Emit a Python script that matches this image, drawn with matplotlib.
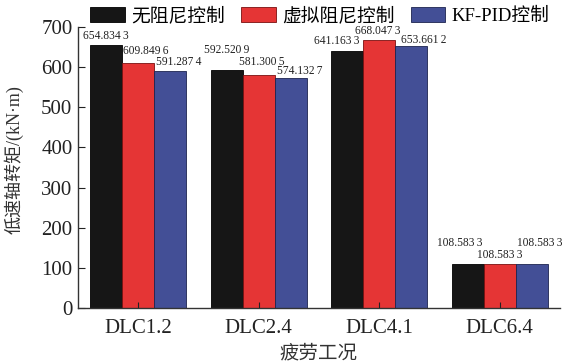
import numpy as np
import matplotlib
matplotlib.use("Agg")
import matplotlib.pyplot as plt

plt.rcParams['font.family'] = ['Liberation Serif', 'Noto Sans CJK SC', 'DejaVu Sans']
plt.rcParams['axes.unicode_minus'] = False

# fatigue load cases and low-speed shaft torque (kN·m)
cases = ['DLC1.2', 'DLC2.4', 'DLC4.1', 'DLC6.4']
series_names = ['无阻尼控制', '虚拟阻尼控制', 'KF-PID控制']
no_damping = [654.8343, 592.5209, 641.1633, 108.5833]
virtual_damping = [609.8496, 581.3005, 668.0473, 108.5833]
kf_pid = [591.2874, 574.1327, 653.6612, 108.5833]

colors = ['#161616', '#e53535', '#434f96']
edges = ['#000000', '#7a1010', '#1d2450']

# label nudges (pixels) so the value texts don't collide
label_dx = [[0, 0, -10, -8], [8, 3, -1, 0], [9, 9, 12, 8]]
label_dy = [[3, 14, 4, 15], [6, 7, 3, 3], [3, 1, 0, 15]]


def fmt(v):
    s = f'{v:.4f}'
    return s[:-1] + '\u2009' + s[-1]


fig = plt.figure(figsize=(5.69, 3.63), dpi=100)
ax = fig.add_axes([0.137, 0.1515, 0.847, 0.774])

x = np.arange(len(cases))
w = 0.266
all_series = [no_damping, virtual_damping, kf_pid]
for i, vals in enumerate(all_series):
    pos = x + (i - 1) * w
    bars = ax.bar(pos, vals, w, color=colors[i], edgecolor=edges[i],
                  linewidth=0.6, label=series_names[i])
    for j, (b, v) in enumerate(zip(bars, vals)):
        ax.annotate(fmt(v), (b.get_x() + b.get_width() / 2, v),
                    xytext=(label_dx[i][j], label_dy[i][j]),
                    textcoords='offset pixels', ha='center', va='bottom',
                    fontsize=8.3, color='#222222')

ax.set_xlim(-0.5, 3.5)
ax.set_ylim(0, 700)
ax.set_yticks(np.arange(0, 701, 100))
ax.set_xticks(x)
ax.set_xticklabels(cases)
ax.tick_params(axis='both', direction='in', labelsize=15, colors='#222222')
ax.tick_params(axis='x', length=4, pad=8)
ax.tick_params(axis='y', length=5, pad=4)
ax.spines['top'].set_visible(False)
ax.spines['right'].set_visible(False)
for s in ('left', 'bottom'):
    ax.spines[s].set_color('#333333')
    ax.spines[s].set_linewidth(1.0)

ax.set_xlabel('疲劳工况', fontsize=14, color='#333333', labelpad=5)
ax.set_ylabel('低速轴转矩/(kN·m)', fontsize=13, color='#333333')
ax.yaxis.set_label_coords(-0.112, 0.53)

ax.legend(loc='lower left', bbox_to_anchor=(0.025, 1.006), ncol=3,
          frameon=False, fontsize=13.5, handlelength=1.85, handleheight=0.85,
          handletextpad=0.35, columnspacing=0.85, borderaxespad=0,
          borderpad=0)

fig.savefig('out.png', dpi=100)
